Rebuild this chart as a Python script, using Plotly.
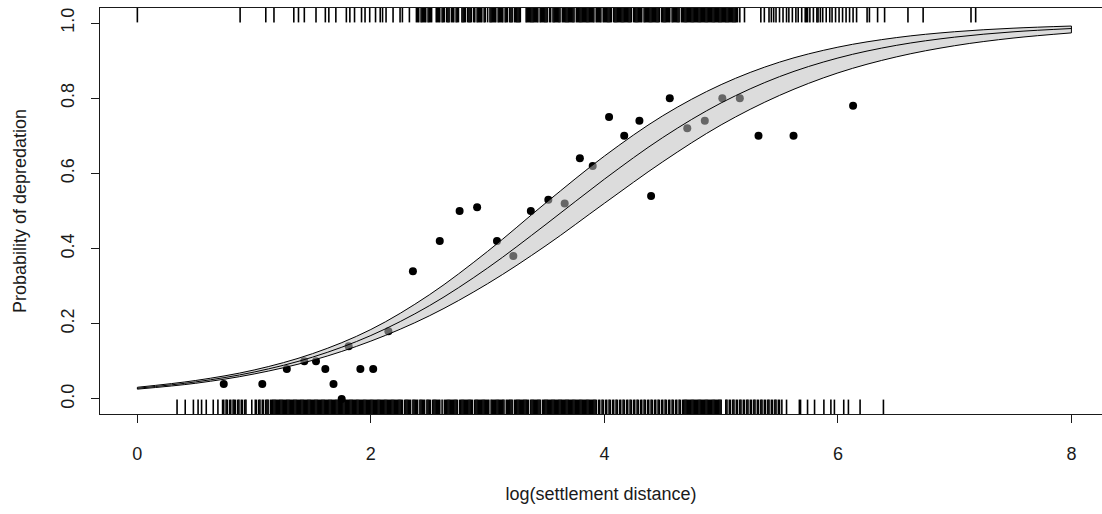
import plotly.graph_objects as go

# ---- observed proportions of depredation by distance bin ----
bin_x = [0.74, 1.07, 1.28, 1.43, 1.53, 1.61, 1.68, 1.75, 1.81, 1.91, 2.02, 2.15,
         2.36, 2.59, 2.76, 2.91, 3.08, 3.22, 3.37, 3.52, 3.66, 3.79, 3.90, 4.04,
         4.17, 4.30, 4.40, 4.56, 4.71, 4.86, 5.01, 5.16, 5.32, 5.62, 6.13]
bin_p = [0.04, 0.04, 0.08, 0.10, 0.10, 0.08, 0.04, 0.00, 0.14, 0.08, 0.08, 0.18,
         0.34, 0.42, 0.50, 0.51, 0.42, 0.38, 0.50, 0.53, 0.52, 0.64, 0.62, 0.75,
         0.70, 0.74, 0.54, 0.80, 0.72, 0.74, 0.80, 0.80, 0.70, 0.70, 0.78]

# ---- fitted logistic curve with confidence band ----
fit_x = [0.0, 0.5, 1.0, 1.5, 2.0, 2.5, 3.0, 3.5, 4.0, 4.5, 5.0, 5.5, 6.0, 6.5, 7.0, 7.5, 8.0]
fit_p = [0.0285, 0.0454, 0.0716, 0.1112, 0.1688, 0.2479, 0.3484, 0.4646, 0.5847,
         0.6954, 0.7875, 0.8574, 0.9070, 0.9406, 0.9625, 0.9766, 0.9854]
fit_hi = [0.0311, 0.0492, 0.0771, 0.1205, 0.1848, 0.2769, 0.3927, 0.5220, 0.6461,
          0.7533, 0.8362, 0.8960, 0.9358, 0.9612, 0.9769, 0.9863, 0.9920]
fit_lo = [0.0261, 0.0418, 0.0665, 0.1027, 0.1539, 0.2210, 0.3066, 0.4080, 0.5205,
          0.6309, 0.7291, 0.8075, 0.8673, 0.9099, 0.9397, 0.9600, 0.9738]

# ---- individual observations (rug): depredation events ----
rug_yes = [
    0.00, 0.88, 1.10, 1.17, 1.34, 1.38, 1.43, 1.53, 1.61, 1.64, 1.70, 1.79, 1.82,
    1.86, 1.92, 1.95, 1.99, 2.04, 2.08, 2.10, 2.13, 2.19, 2.25, 2.27, 2.33,
    2.39, 2.40, 2.41, 2.43, 2.44, 2.45, 2.46, 2.47, 2.49, 2.50, 2.51, 2.52,
    2.56, 2.57, 2.58, 2.59, 2.61, 2.62, 2.63, 2.65, 2.66, 2.67, 2.69, 2.70, 2.71,
    2.73, 2.74, 2.75, 2.78, 2.79, 2.80, 2.81, 2.83, 2.84, 2.85, 2.86, 2.88, 2.89,
    2.91, 2.92, 2.93, 2.94, 2.95, 2.97, 2.98, 3.00, 3.02, 3.03, 3.04, 3.05, 3.06,
    3.07, 3.09, 3.10, 3.11, 3.12, 3.13, 3.15, 3.16, 3.17, 3.19, 3.20, 3.21, 3.23,
    3.24, 3.25, 3.26, 3.27, 3.28,
    3.33, 3.34, 3.35, 3.36, 3.37, 3.38, 3.39, 3.40, 3.41, 3.42, 3.43, 3.45, 3.46,
    3.47, 3.48, 3.49, 3.50, 3.51, 3.53, 3.54, 3.56, 3.57, 3.58, 3.59, 3.60, 3.61,
    3.62, 3.64, 3.65, 3.66, 3.67, 3.68, 3.69, 3.70, 3.71, 3.72, 3.73, 3.74, 3.76,
    3.77, 3.78, 3.79, 3.80, 3.81, 3.82, 3.83, 3.84, 3.85, 3.86, 3.87, 3.88, 3.89,
    3.90, 3.91, 3.93, 3.94, 3.95, 3.96, 3.97, 3.99, 4.00, 4.01, 4.02, 4.03, 4.04,
    4.05, 4.06, 4.08, 4.09, 4.10, 4.11, 4.12, 4.13, 4.14, 4.15, 4.16, 4.17, 4.18,
    4.19, 4.20, 4.21, 4.22, 4.23, 4.25, 4.26, 4.27, 4.28, 4.29, 4.30, 4.31, 4.32,
    4.34, 4.35, 4.36, 4.37, 4.38, 4.39, 4.40, 4.41, 4.42, 4.43, 4.44, 4.45, 4.46,
    4.47, 4.49, 4.50, 4.51, 4.52, 4.53, 4.54, 4.55, 4.56, 4.58, 4.59, 4.60, 4.61,
    4.62, 4.63, 4.64, 4.66, 4.67, 4.68, 4.69, 4.70, 4.71, 4.72, 4.73, 4.74, 4.75,
    4.76, 4.77, 4.78, 4.79, 4.80, 4.81, 4.82, 4.83, 4.84, 4.85, 4.86, 4.87, 4.88,
    4.89, 4.90, 4.91, 4.92, 4.93, 4.94, 4.95, 4.96, 4.97, 4.98, 4.99, 5.00, 5.01,
    5.02, 5.03, 5.04, 5.05, 5.06, 5.07, 5.08, 5.09, 5.10, 5.11, 5.12, 5.13, 5.14,
    5.16, 5.20, 5.34, 5.37, 5.41, 5.43, 5.45, 5.47, 5.50, 5.53, 5.56, 5.58, 5.61,
    5.64, 5.66, 5.69, 5.72, 5.73, 5.74, 5.76, 5.79, 5.82, 5.83, 5.85, 5.87, 5.90,
    5.93, 5.95, 5.98, 6.01, 6.04, 6.07, 6.10, 6.13, 6.16, 6.25, 6.27, 6.34, 6.40,
    6.60, 6.73, 7.14, 7.18,
]

# ---- individual observations (rug): no depredation ----
rug_no = [
    0.34, 0.41, 0.48, 0.52, 0.55, 0.59, 0.65, 0.69,
    0.73, 0.74, 0.76, 0.77, 0.79, 0.80, 0.82, 0.83, 0.84, 0.86, 0.87, 0.89, 0.90,
    0.92, 0.93, 0.98, 1.01, 1.02, 1.04, 1.05, 1.07, 1.08, 1.10, 1.11, 1.12, 1.14,
    1.15,
    1.16, 1.17, 1.18, 1.19, 1.20, 1.21, 1.22, 1.23, 1.24, 1.25, 1.26, 1.27, 1.28,
    1.29, 1.30, 1.31, 1.32, 1.33, 1.34, 1.35, 1.36, 1.37, 1.38, 1.39, 1.40, 1.41,
    1.42, 1.43, 1.44, 1.45, 1.46, 1.47, 1.48, 1.49, 1.50, 1.51, 1.52, 1.53, 1.54,
    1.55, 1.56, 1.57, 1.58, 1.59, 1.60, 1.61, 1.62, 1.63, 1.64, 1.65, 1.66, 1.67,
    1.68, 1.69, 1.70, 1.71, 1.72, 1.73, 1.74, 1.75, 1.76, 1.77, 1.78, 1.79, 1.80,
    1.81, 1.82, 1.83, 1.84, 1.85, 1.86, 1.87, 1.88, 1.89, 1.90, 1.91, 1.92, 1.93,
    1.94, 1.95, 1.96, 1.97, 1.98, 1.99, 2.00, 2.01, 2.02, 2.03, 2.04, 2.05, 2.06,
    2.07, 2.08, 2.09, 2.10, 2.11, 2.12, 2.13, 2.14, 2.15, 2.16, 2.17, 2.18, 2.19,
    2.20, 2.21, 2.22, 2.23, 2.24, 2.25, 2.26, 2.27, 2.29, 2.30, 2.31, 2.32, 2.33,
    2.34, 2.36, 2.37, 2.38, 2.39, 2.40, 2.42, 2.43, 2.44, 2.45, 2.46, 2.48, 2.49,
    2.50, 2.51, 2.53, 2.54, 2.55, 2.56, 2.57, 2.58, 2.59, 2.61, 2.63, 2.64, 2.65,
    2.66, 2.67, 2.68, 2.69, 2.70, 2.71, 2.72, 2.73, 2.74, 2.76, 2.77, 2.78, 2.79,
    2.80, 2.81, 2.82, 2.83, 2.84, 2.85, 2.86, 2.87, 2.89, 2.90, 2.91, 2.92, 2.93,
    2.94, 2.95, 2.96, 2.97, 2.98, 2.99, 3.00, 3.01, 3.03, 3.04, 3.05, 3.06, 3.07,
    3.08, 3.09, 3.10, 3.11, 3.12, 3.13, 3.14, 3.16, 3.17, 3.18, 3.19, 3.20, 3.21,
    3.23, 3.24, 3.25, 3.26, 3.27, 3.28, 3.29, 3.30, 3.31, 3.32, 3.33, 3.34, 3.35,
    3.37, 3.38, 3.39, 3.40, 3.41, 3.42, 3.43, 3.44, 3.45, 3.47, 3.48, 3.49, 3.50,
    3.51, 3.52, 3.53, 3.54, 3.55, 3.56, 3.57, 3.58, 3.59, 3.60, 3.61, 3.62, 3.63,
    3.64, 3.65, 3.66, 3.67, 3.68, 3.69, 3.70, 3.71, 3.72, 3.73, 3.74, 3.75, 3.76,
    3.77, 3.78, 3.79, 3.80, 3.81, 3.82, 3.83, 3.84, 3.85, 3.86, 3.87, 3.88, 3.89,
    3.90, 3.91, 3.92, 3.93, 3.95, 3.96, 3.98, 3.99, 4.01, 4.02, 4.04, 4.05, 4.07,
    4.08, 4.10, 4.11, 4.13, 4.14, 4.16, 4.17, 4.19, 4.20, 4.22, 4.23, 4.25, 4.26,
    4.28, 4.29, 4.31, 4.32, 4.34, 4.35, 4.37, 4.38, 4.40, 4.41, 4.43, 4.44, 4.46,
    4.47, 4.49, 4.50, 4.52, 4.53, 4.55, 4.56, 4.58, 4.59, 4.61, 4.62, 4.64, 4.65,
    4.67, 4.68, 4.69, 4.70, 4.71, 4.72, 4.73, 4.74, 4.75, 4.76, 4.77, 4.78, 4.79,
    4.80, 4.81, 4.82, 4.83, 4.84, 4.85, 4.86, 4.87, 4.88, 4.89, 4.90, 4.91, 4.92,
    4.93, 4.94, 4.95, 4.96, 4.97, 4.98, 4.99, 5.00, 5.04, 5.05, 5.07, 5.08, 5.10,
    5.11, 5.13, 5.14, 5.16, 5.17, 5.19, 5.20, 5.22, 5.23, 5.25, 5.26, 5.28, 5.29,
    5.31, 5.32, 5.34, 5.35, 5.37, 5.38, 5.40, 5.41, 5.43, 5.44, 5.46, 5.47, 5.49,
    5.50, 5.52,
    5.56, 5.67, 5.68, 5.74, 5.80, 5.88, 5.94, 5.97, 6.05, 6.09, 6.19, 6.39,
]

x_ticks = [0, 2, 4, 6, 8]
y_ticks = [0.0, 0.2, 0.4, 0.6, 0.8, 1.0]
y_tick_text = ["0.0", "0.2", "0.4", "0.6", "0.8", "1.0"]

FONT = "Liberation Sans, Arial, sans-serif"
INK = "#1a1a1a"

fig = go.Figure()

# binned points (drawn first so the translucent band shades them)
fig.add_trace(go.Scatter(
    x=bin_x, y=bin_p, mode="markers",
    marker=dict(color="black", size=8),
    showlegend=False, hoverinfo="skip"))

# rugs along the bottom and top of the panel
rug_marker = dict(symbol="line-ns", size=12, line=dict(color="black", width=1.6))
fig.add_trace(go.Scatter(
    x=rug_no, y=[-0.024] * len(rug_no), mode="markers", marker=rug_marker,
    showlegend=False, hoverinfo="skip"))
fig.add_trace(go.Scatter(
    x=rug_yes, y=[1.024] * len(rug_yes), mode="markers", marker=rug_marker,
    showlegend=False, hoverinfo="skip"))

# confidence band
fig.add_trace(go.Scatter(
    x=fit_x, y=fit_lo, mode="lines",
    line=dict(color="black", width=1, shape="spline"),
    showlegend=False, hoverinfo="skip"))
fig.add_trace(go.Scatter(
    x=fit_x, y=fit_hi, mode="lines", fill="tonexty",
    fillcolor="rgba(190,190,190,0.54)",
    line=dict(color="black", width=1, shape="spline"),
    showlegend=False, hoverinfo="skip"))
# closing edges of the band
for i in (0, len(fit_x) - 1):
    fig.add_trace(go.Scatter(
        x=[fit_x[i], fit_x[i]], y=[fit_lo[i], fit_hi[i]], mode="lines",
        line=dict(color="black", width=1),
        showlegend=False, hoverinfo="skip"))

# fitted curve
fig.add_trace(go.Scatter(
    x=fit_x, y=fit_p, mode="lines",
    line=dict(color="black", width=1, shape="spline"),
    showlegend=False, hoverinfo="skip"))

fig.update_layout(
    width=1102, height=514,
    margin=dict(l=100, r=0, t=8, b=100),
    paper_bgcolor="white", plot_bgcolor="white",
    font=dict(family=FONT, size=18, color=INK),
    showlegend=False,
    xaxis=dict(
        range=[-0.32, 8.262], tickvals=x_ticks,
        ticks="outside", ticklen=8, tickwidth=1, tickcolor=INK,
        showline=True, linecolor=INK, linewidth=1, mirror=True,
        showgrid=False, zeroline=False,
        ticklabelstandoff=15,
        title=dict(text="log(settlement distance)", standoff=24,
                   font=dict(family=FONT, size=18, color=INK)),
    ),
    yaxis=dict(
        range=[-0.04, 1.04], tickvals=y_ticks, ticktext=y_tick_text,
        tickangle=-90,
        ticks="outside", ticklen=8, tickwidth=1, tickcolor=INK,
        showline=True, linecolor=INK, linewidth=1, mirror=False,
        showgrid=False, zeroline=False,
        ticklabelstandoff=10,
        title=dict(text="Probability of depredation", standoff=26,
                   font=dict(family=FONT, size=18, color=INK)),
    ),
)

fig.write_html("out.html")
